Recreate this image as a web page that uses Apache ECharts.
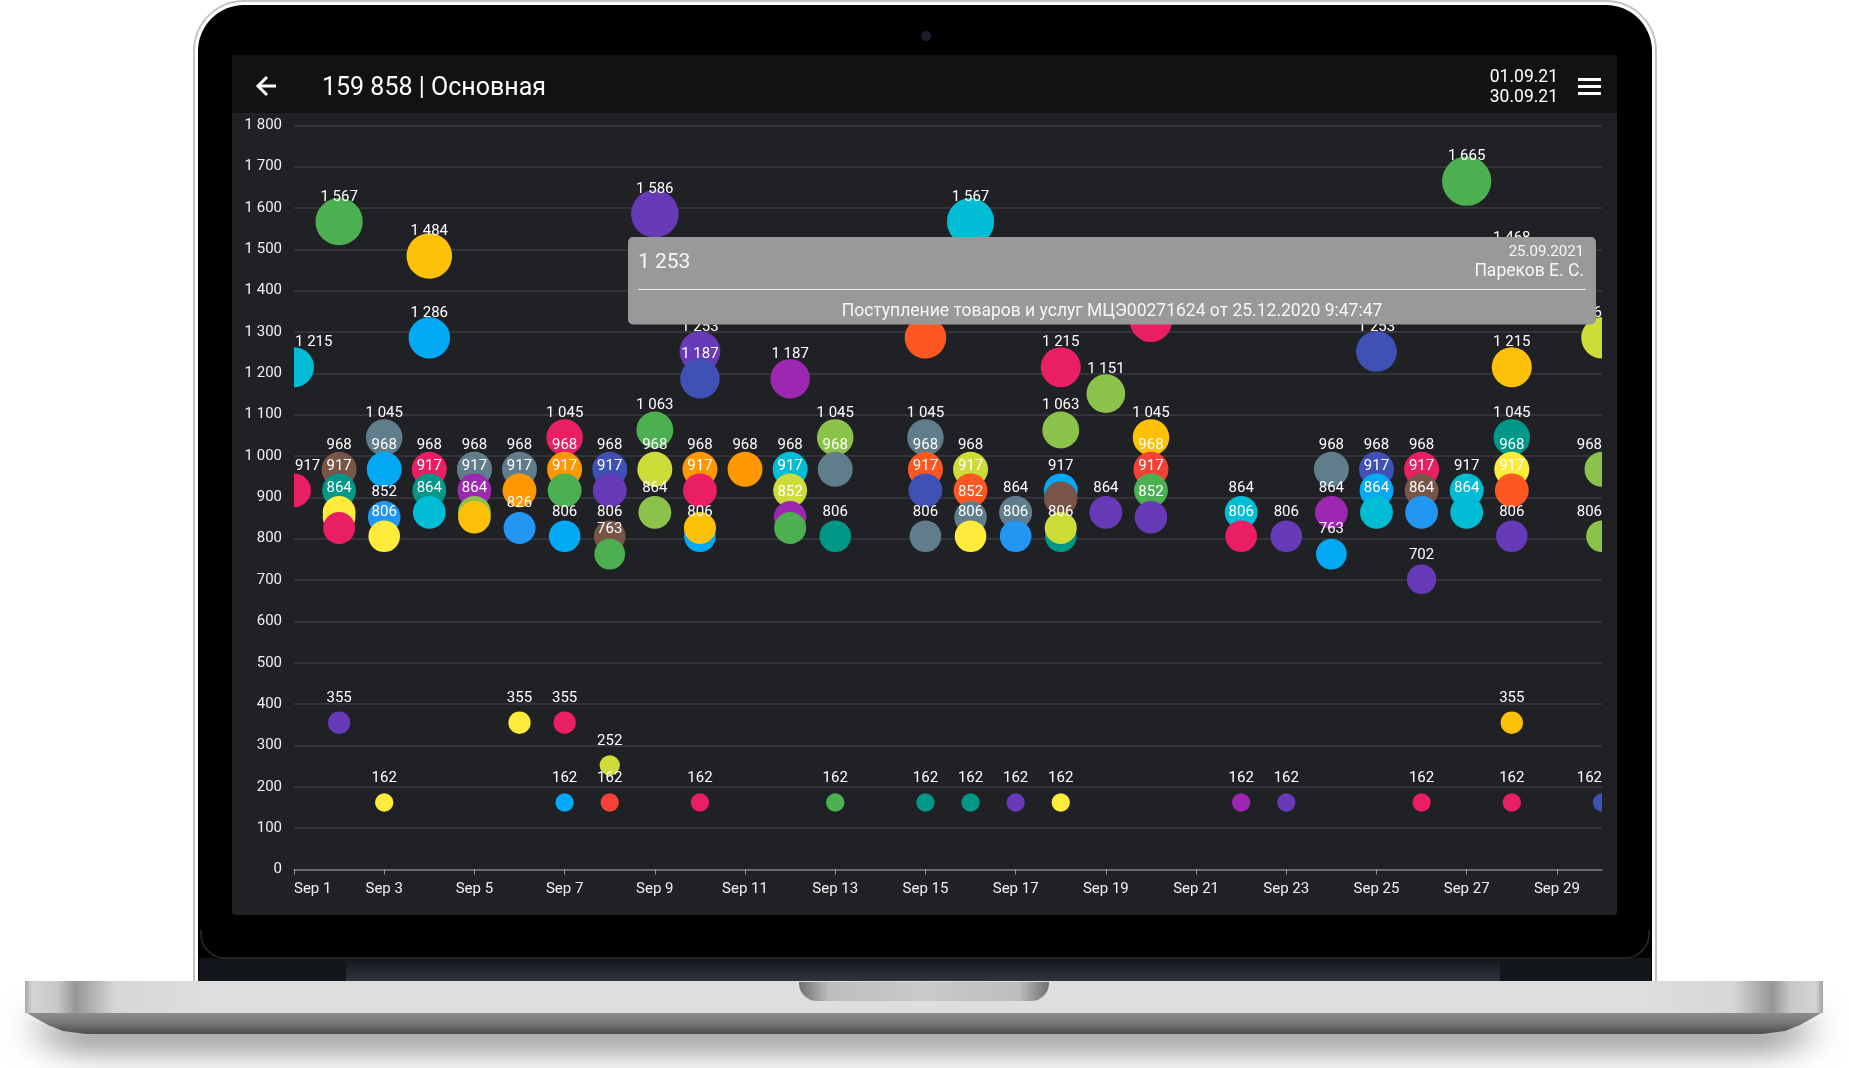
<!DOCTYPE html>
<html lang="ru">
<head>
  <meta charset="UTF-8">
  <title>159 858 | Основная</title>
  <style>
    html, body { margin: 0; height: 100%; background: #fff; }
    #chart { width: 1849px; height: 1068px; }
  </style>
</head>
<body>
<div id="chart"></div>
<script src="https://cdn.jsdelivr.net/npm/echarts@6/dist/echarts.min.js"></script>
<script>
  var dayLabels = []
  for (var d = 1; d <= 30; d++) dayLabels.push('Sep ' + d)

  // one row per day, drawn in this order
  var dayValues = [
    [1215, 917],
    [1567, 968, 917, 864, 852, 826, 355],
    [1045, 968, 852, 806, 162],
    [1484, 1286, 968, 917, 864],
    [968, 968, 917, 864, 852],
    [968, 917, 826, 355],
    [1045, 968, 917, 806, 355, 162],
    [968, 917, 806, 763, 252, 162],
    [1586, 1063, 968, 864],
    [1253, 1187, 968, 917, 806, 826, 162],
    [968],
    [1187, 968, 917, 852, 826],
    [1045, 968, 806, 162],
    [],
    [1286, 1045, 968, 917, 806, 162],
    [1567, 968, 917, 852, 806, 162],
    [864, 864, 806, 162],
    [1215, 1063, 917, 806, 898, 826, 162],
    [1151, 864],
    [1327, 1045, 968, 917, 852],
    [],
    [864, 806, 162],
    [806, 162],
    [968, 864, 763],
    [1253, 968, 917, 864],
    [968, 917, 864, 702, 162],
    [1665, 917, 864],
    [1468, 1215, 1045, 968, 917, 806, 355, 162],
    [],
    [1286, 968, 806, 162]
  ]

  var dayShades = [
    ['cyan', 'pink'],
    ['green', 'brown', 'teal', 'yellow', 'yellow', 'pink', 'deepPurple'],
    ['blueGrey', 'lightBlue', 'blue', 'yellow', 'yellow'],
    ['amber', 'lightBlue', 'pink', 'teal', 'cyan'],
    ['brown', 'blueGrey', 'purple', 'lightGreen', 'amber'],
    ['blueGrey', 'orange', 'blue', 'yellow'],
    ['pink', 'orange', 'green', 'lightBlue', 'pink', 'lightBlue'],
    ['indigo', 'deepPurple', 'brown', 'green', 'lime', 'red'],
    ['deepPurple', 'green', 'lime', 'lightGreen'],
    ['deepPurple', 'indigo', 'orange', 'pink', 'lightBlue', 'amber', 'pink'],
    ['orange'],
    ['purple', 'cyan', 'lime', 'purple', 'green'],
    ['lightGreen', 'blueGrey', 'teal', 'green'],
    [],
    ['deepOrange', 'blueGrey', 'deepOrange', 'indigo', 'blueGrey', 'teal'],
    ['cyan', 'lime', 'deepOrange', 'blueGrey', 'yellow', 'teal'],
    ['deepPurple', 'blueGrey', 'blue', 'deepPurple'],
    ['pink', 'lightGreen', 'lightBlue', 'teal', 'brown', 'lime', 'yellow'],
    ['lightGreen', 'deepPurple'],
    ['pink', 'amber', 'red', 'green', 'deepPurple'],
    [],
    ['cyan', 'pink', 'purple'],
    ['deepPurple', 'deepPurple'],
    ['blueGrey', 'purple', 'lightBlue'],
    ['indigo', 'indigo', 'lightBlue', 'cyan'],
    ['pink', 'brown', 'blue', 'deepPurple', 'pink'],
    ['green', 'cyan', 'cyan'],
    ['green', 'amber', 'teal', 'yellow', 'deepOrange', 'deepPurple', 'amber', 'pink'],
    [],
    ['lime', 'lightGreen', 'lightGreen', 'indigo']
  ]

  // points whose value is not printed in the picture: [day index, row index]
  var silentPoints = [[1, 4], [1, 5], [4, 1], [4, 4], [9, 5], [11, 4], [16, 1], [17, 4], [17, 5]]

  var yTicks = { min: 0, max: 1800, step: 100 }

  var palette = {
    pink: '#E91E63', red: '#F44336', purple: '#9C27B0', deepPurple: '#673AB7', indigo: '#3F51B5',
    blue: '#2196F3', lightBlue: '#03A9F4', cyan: '#00BCD4', teal: '#009688', green: '#4CAF50',
    lightGreen: '#8BC34A', lime: '#CDDC39', yellow: '#FFEB3B', amber: '#FFC107', orange: '#FF9800',
    deepOrange: '#FF5722', brown: '#795548', blueGrey: '#607D8B'
  }

  function spaced(v) {
    return String(v).replace(/\B(?=(\d{3})+$)/g, ' ')
  }

  function isSilent(day, row) {
    return silentPoints.some(function(p) { return p[0] === day && p[1] === row })
  }

  var points = []
  dayValues.forEach(function(values, day) {
    values.forEach(function(v, row) {
      var item = {
        value: [day, v],
        itemStyle: { color: palette[dayShades[day][row]] },
        label: { show: !isSilent(day, row) }
      }
      // first and last day print their labels inside the plot
      if (day === 0) { item.label.align = 'left'; item.label.offset = [1, -24.5] }
      if (day === 29) { item.label.align = 'right'; item.label.offset = [0, -24.5] }
      points.push(item)
    })
  })

  // laptop and app chrome, behind the plot
  function box(x, y, w, h, r, fill, extra) {
    var el = { type: 'rect', z: -1, shape: { x: x, y: y, width: w, height: h, r: r }, style: { fill: fill } }
    if (extra) Object.assign(el.style, extra)
    return el
  }
  function label(text, x, y, size, align, fill, z) {
    return {
      type: 'text', z: z, x: x, y: y,
      style: { text: text, fill: fill, font: size + 'px Roboto', textAlign: align, textVerticalAlign: 'middle' }
    }
  }
  function grad(horizontal, stops) {
    return {
      type: 'linear', x: 0, y: 0, x2: horizontal ? 1 : 0, y2: horizontal ? 0 : 1,
      colorStops: stops.map(function(s) { return { offset: s[0], color: s[1] } })
    }
  }
  var metalTop = grad(true, [
    [0, '#a8a8a8'], [0.004, '#d4d4d4'], [0.018, '#c8c8c8'], [0.028, '#969696'], [0.05, '#d6d6d6'], [0.1, '#dedede'],
    [0.9, '#dedede'], [0.95, '#d6d6d6'], [0.972, '#969696'], [0.982, '#c8c8c8'], [0.996, '#d4d4d4'], [1, '#a0a0a0']
  ])
  var metalLow = grad(false, [[0, '#8f8f8f'], [0.45, '#7a7a7a'], [1, '#4c4c4c']])
  var notch = grad(true, [[0, '#707070'], [0.12, '#bdbdbd'], [0.5, '#cacaca'], [0.88, '#bdbdbd'], [1, '#707070']])

  var backdrop = [
    box(194, 1, 1462, 985, [50, 50, 0, 0], '#ffffff', { stroke: '#c4c4c4', lineWidth: 2 }),
    box(198, 5, 1454, 978, [46, 46, 0, 0], '#000000'),
    box(199, 958, 1452, 24, 0, '#12161b'),
    box(201, 900, 1448, 58, [0, 0, 24, 24], '#000000', { stroke: '#2a2b2e', lineWidth: 1.5 }),
    box(199, 890, 1452, 40, 0, '#000000'),
    box(346, 959, 1154, 22, 0, grad(false, [[0, '#14171c'], [1, '#30343d']])),
    {
      type: 'polygon', z: -1,
      shape: { points: [[25, 1012], [1823, 1012], [1800, 1025], [1785, 1031], [1762, 1034], [86, 1034], [63, 1031], [48, 1025]] },
      style: { fill: metalLow, shadowBlur: 34, shadowColor: 'rgba(0,0,0,0.65)', shadowOffsetY: 12 }
    },
    box(25, 981, 1798, 32, 0, metalTop),
    box(799, 982, 250, 19, [0, 0, 18, 18], notch),
    box(232, 55, 1385, 860, 3, '#202125'),
    box(232, 55, 1385, 58, [3, 3, 0, 0], '#121212'),
    { type: 'circle', z: -1, shape: { cx: 926, cy: 36, r: 5 }, style: { fill: '#1a1f2b' } },
    label('159 858 | Основная', 322, 89, 25, 'left', '#ffffff', -1),
    label('01.09.21', 1558, 78, 17.5, 'right', '#ffffff', -1),
    label('30.09.21', 1558, 98, 17.5, 'right', '#ffffff', -1),
    { type: 'polyline', z: -1, shape: { points: [[276, 86], [258, 86]] }, style: { stroke: '#fff', lineWidth: 3, fill: null } },
    { type: 'polyline', z: -1, shape: { points: [[267, 77], [258, 86], [267, 95]] }, style: { stroke: '#fff', lineWidth: 3, fill: null } },
    box(1578, 78, 23, 3, 0, '#fff'),
    box(1578, 85, 23, 3, 0, '#fff'),
    box(1578, 92, 23, 3, 0, '#fff')
  ]

  // bubbles on the first and last day are cut at the plot edge
  var edgeMasks = [
    { type: 'rect', z: 5, shape: { x: 232, y: 113, width: 62, height: 750 }, style: { fill: '#202125' } },
    { type: 'rect', z: 5, shape: { x: 1602, y: 113, width: 15, height: 750 }, style: { fill: '#202125' } },
    { type: 'rect', z: 5, shape: { x: 1617, y: 113, width: 34, height: 750 }, style: { fill: '#000000' } }
  ]

  // the tooltip card that sits over the plot
  var card = [
    { type: 'rect', z: 50, shape: { x: 628, y: 237, width: 968, height: 87.5, r: 5 }, style: { fill: '#999999' } },
    { type: 'rect', z: 51, shape: { x: 638, y: 289, width: 948, height: 1 }, style: { fill: '#f2f2f2' } },
    label('1 253', 638, 262.5, 21, 'left', '#f6f6f6', 51),
    label('25.09.2021', 1584, 252, 15, 'right', '#f6f6f6', 51),
    label('Пареков Е. С.', 1584, 271.5, 17.5, 'right', '#f6f6f6', 51),
    label('Поступление товаров и услуг МЦЭ00271624 от 25.12.2020 9:47:47', 1112, 311.5, 17.5, 'center', '#f6f6f6', 51)
  ]

  var myChart = echarts.init(document.getElementById('chart'), null, { renderer: 'canvas' })
  var option = {
    animation: false,
    backgroundColor: '#ffffff',
    textStyle: { fontFamily: 'Roboto' },
    graphic: { elements: backdrop.concat(edgeMasks, card) },
    grid: { left: 294, right: 247, top: 125.3, bottom: 198.5, containLabel: false },
    xAxis: {
      type: 'category',
      data: dayLabels,
      boundaryGap: false,
      axisLine: { lineStyle: { color: '#7c7d80', width: 1.5 } },
      axisTick: { interval: 1, length: 5, lineStyle: { color: '#9a9b9e' } },
      axisLabel: { interval: 1, color: '#f0f0f0', fontSize: 15, margin: 12, alignMinLabel: 'left' },
      splitLine: { show: false }
    },
    yAxis: [
      {
        type: 'value',
        min: yTicks.min,
        max: yTicks.max,
        interval: yTicks.step,
        axisLine: { show: false },
        axisTick: { show: false },
        axisLabel: { show: false },
        splitLine: { lineStyle: { color: '#3a3b41', width: 1.5 } }
      },
      {
        // labels only, kept above the edge masks
        type: 'value',
        position: 'left',
        z: 10,
        min: yTicks.min,
        max: yTicks.max,
        interval: yTicks.step,
        axisLine: { show: false },
        axisTick: { show: false },
        axisLabel: { color: '#f0f0f0', fontSize: 15, margin: 12, padding: [2, 0, 0, 0], formatter: spaced },
        splitLine: { show: false }
      }
    ],
    series: [{
      type: 'scatter',
      data: points,
      // bubble size follows the value
      symbolSize: function(val) { return 2 * (7.5 + 0.0103 * val[1]) },
      itemStyle: { opacity: 1 },
      label: {
        show: true,
        position: 'inside',
        offset: [0, -24.5],
        color: '#ffffff',
        fontSize: 15,
        fontFamily: 'Roboto',
        formatter: function(p) { return spaced(p.value[1]) }
      },
      emphasis: { disabled: true }
    }]
  }
  myChart.setOption(option)
  window.addEventListener('resize', myChart.resize)
</script>
</body>
</html>
